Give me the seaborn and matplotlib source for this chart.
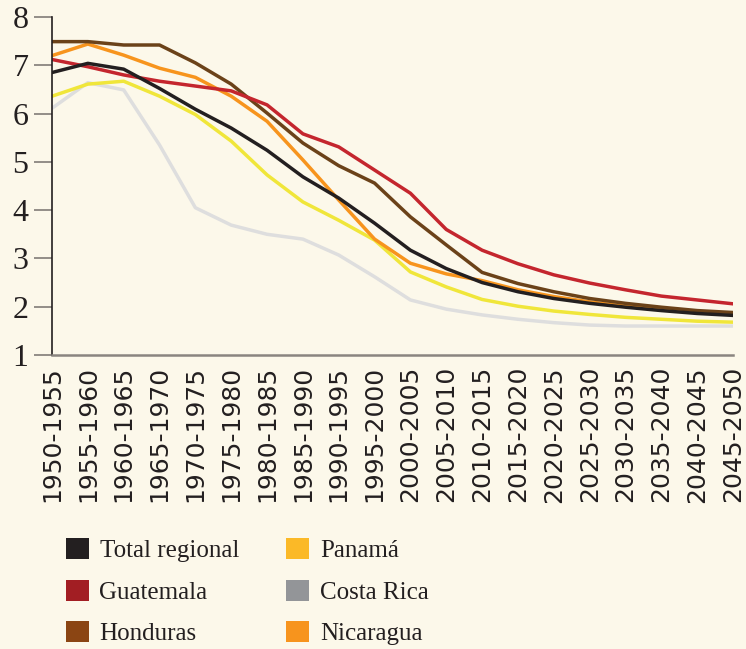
import numpy as np
import pandas as pd
import matplotlib
matplotlib.use("Agg")
import matplotlib.pyplot as plt
from matplotlib.patches import Patch
import seaborn as sns

periods = ["1950-1955", "1955-1960", "1960-1965", "1965-1970", "1970-1975",
           "1975-1980", "1980-1985", "1985-1990", "1990-1995", "1995-2000",
           "2000-2005", "2005-2010", "2010-2015", "2015-2020", "2020-2025",
           "2025-2030", "2030-2035", "2035-2040", "2040-2045", "2045-2050"]

total_regional = [6.85, 7.04, 6.92, 6.52, 6.09, 5.70, 5.24, 4.69, 4.25, 3.73,
                  3.17, 2.79, 2.50, 2.31, 2.17, 2.07, 1.99, 1.92, 1.86, 1.82]
guatemala = [7.12, 6.97, 6.80, 6.67, 6.57, 6.47, 6.18, 5.58, 5.31, 4.83,
             4.35, 3.60, 3.17, 2.89, 2.66, 2.49, 2.35, 2.22, 2.14, 2.06]
honduras = [7.49, 7.49, 7.42, 7.42, 7.05, 6.61, 6.01, 5.39, 4.92, 4.56,
            3.86, 3.28, 2.71, 2.48, 2.31, 2.17, 2.07, 1.99, 1.92, 1.88]
panama = [6.36, 6.61, 6.67, 6.36, 5.98, 5.43, 4.73, 4.17, 3.79, 3.38,
          2.72, 2.41, 2.15, 2.01, 1.91, 1.84, 1.78, 1.74, 1.70, 1.68]
costa_rica = [6.11, 6.64, 6.49, 5.35, 4.05, 3.69, 3.50, 3.40, 3.07, 2.62,
              2.14, 1.95, 1.83, 1.74, 1.67, 1.62, 1.60, 1.60, 1.60, 1.60]
nicaragua = [7.20, 7.44, 7.21, 6.94, 6.75, 6.36, 5.84, 5.04, 4.21, 3.40,
             2.90, 2.68, 2.54, 2.35, 2.21, 2.10, 2.01, 1.95, 1.90, 1.86]

series_names = ["Total regional", "Guatemala", "Honduras", "Panamá", "Costa Rica", "Nicaragua"]
series_values = [total_regional, guatemala, honduras, panama, costa_rica, nicaragua]

line_colors = {"Total regional": "#231f20", "Guatemala": "#c4262e", "Honduras": "#6b4219",
               "Panamá": "#f0e63a", "Costa Rica": "#dedede", "Nicaragua": "#f7941d"}
legend_colors = {"Total regional": "#231f20", "Guatemala": "#a21e23", "Honduras": "#8b4513",
                 "Panamá": "#fbb927", "Costa Rica": "#939598", "Nicaragua": "#f7941d"}

rows = []
for name, vals in zip(series_names, series_values):
    for i, v in enumerate(vals):
        rows.append({"serie": name, "x": i, "valor": v})
df = pd.DataFrame(rows)

bg = "#fcf8ea"
sns.set_theme(style="white")
plt.rcParams["font.family"] = ["Liberation Serif", "DejaVu Serif"]

fig = plt.figure(figsize=(7.46, 6.49), dpi=100, facecolor=bg)
ax = fig.add_axes([52/746, 1-355/649, (733-52)/746, (355-17)/649])
ax.set_facecolor(bg)

draw_order = ["Costa Rica", "Panamá", "Nicaragua", "Honduras", "Guatemala", "Total regional"]
sns.lineplot(data=df, x="x", y="valor", hue="serie", hue_order=draw_order,
             palette=line_colors, linewidth=2.5, sort=False, legend=False, ax=ax)

ax.set_xlim(0, len(periods)-1)
ax.set_ylim(1, 8)
ax.set_xlabel("")
ax.set_ylabel("")
ax.set_yticks(range(1, 9))
ax.set_yticklabels([str(v) for v in range(1, 9)], fontsize=23, color="#231f20")
ax.set_xticks(range(len(periods)))
ax.set_xticklabels(periods, rotation=90, fontsize=18, family="DejaVu Sans", color="#231f20")
ax.tick_params(axis="y", length=13, width=1.3, color="#8a8580", pad=4, left=True, direction="out")
ax.tick_params(axis="x", length=0, pad=8)

for s in ["top", "right"]:
    ax.spines[s].set_visible(False)
ax.spines["left"].set_color("#231f20")
ax.spines["left"].set_linewidth(1.2)
ax.spines["bottom"].set_color("#8a8580")
ax.spines["bottom"].set_linewidth(1.8)

handles = [Patch(facecolor=legend_colors[n], edgecolor="none", label=n) for n in series_names]
fig.legend(handles=handles, loc="upper left", bbox_to_anchor=(56/746, 1-528/649), ncol=2,
           frameon=False, fontsize=18, handlelength=0.92, handleheight=0.92,
           handletextpad=0.42, labelspacing=0.7, columnspacing=1.9, borderaxespad=0,
           labelcolor="#231f20")

fig.savefig("out.png", dpi=100, facecolor=bg)
